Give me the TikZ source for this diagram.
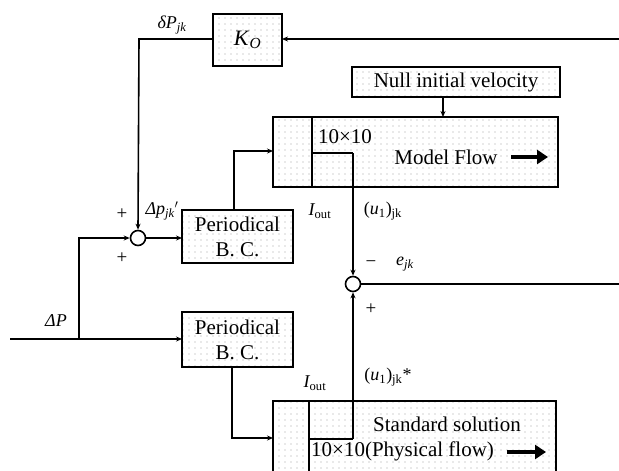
\documentclass[tikz,border=0pt]{standalone}
\usepackage{fontspec}
\setmainfont{Liberation Serif}
\usetikzlibrary{arrows.meta,patterns}
\pgfdeclarepatternformonly{sparsedots}{\pgfqpoint{-1pt}{-1pt}}{\pgfqpoint{6pt}{6pt}}{\pgfqpoint{6pt}{6pt}}{%
  \pgfpathcircle{\pgfqpoint{3pt}{3pt}}{0.65pt}\pgfusepath{fill}}
\begin{document}
\begin{tikzpicture}[x=1pt,y=-1pt,
  blk/.style={draw,line width=1.8pt,pattern=sparsedots,pattern color=gray!75},
  wire/.style={line width=1.6pt},
  arr/.style={line width=1.6pt,-{Stealth[length=6pt,width=5pt]}},
  big/.style={font=\fontsize{21}{25}\selectfont},
  lbl/.style={font=\fontsize{18}{20}\selectfont\itshape},
  sgn/.style={font=\fontsize{19}{20}\selectfont},
  sumj/.style={circle,draw,line width=1.6pt,fill=white,minimum size=15pt,inner sep=0pt},
  fat/.style={line width=4pt,-{Triangle[length=11pt,width=14pt]}}]
\useasboundingbox (0,0) rectangle (619,471);
\clip (0,0) rectangle (619,471);
% blocks
\draw[blk] (213,14) rectangle (282,66);
\node (ko) at (247.5,40) {\fontsize{22}{24}\selectfont\textit{K}\textsubscript{\textit{O}}};
\coordinate (koE) at (282,39); \coordinate (koW) at (213,39);
\draw[blk] (352,67) rectangle (560,97);
\node[big] (null) at (456,82) {Null initial velocity};
\draw[blk] (273,117) rectangle (558,187);
\node[big] (model) at (446,157) {Model Flow};
\node[big] at (345,137) {10×10};
\draw[blk] (182,210) rectangle (293,263);
\node[big,align=center] (pbc1) at (237.5,236.5) {Periodical\\B. C.};
\draw[blk] (182,312) rectangle (293,367);
\node[big,align=center] (pbc2) at (237.5,339.5) {Periodical\\B. C.};
\draw[blk] (273,401) rectangle (556,480);
\node[big] (std) at (447,424) {Standard solution};
\node[big,anchor=west,inner sep=0pt] at (311,451) {10×10(Physical flow)};
% inner partitions
\draw[wire] (312,117) -- (312,187);
\draw[wire] (312,153) -- (353,153) coordinate (mout);
\draw[wire] (309,401) -- (309,480);
\draw[wire] (309,439) -- (353,439) coordinate (sout);
% fat arrows
\draw[fat] (511,157) -- (548,157);
\draw[fat] (507,452) -- (546,452);
% summing junctions
\node[sumj] (s1) at (138,238) {};
\node[sumj] (s2) at (353,284) {};
% coordinates
\coordinate (rin) at (619,39);
\coordinate (c1) at (139,39);
\coordinate (inl) at (10,339);
\coordinate (br) at (79,339);
\coordinate (rout) at (619,284);
% connectors
\draw[arr] (rin) -- (koE);
\draw[arr] (koW) -- (c1) -- (s1.north);
\draw[arr] (inl) -- (182,339);
\draw[arr] (br) |- (s1.west);
\draw[arr] (s1.east) -- (182,238);
\draw[arr] (234,210) |- (273,151);
\draw[arr] (232,367) |- (273,438);
\draw[arr] (443,97) -- (443,117);
\draw[arr] (mout) -- (s2.north);
\draw[arr] (sout) -- (s2.south);
\draw[wire] (s2.east) -- (rout);
% labels
\node[lbl] at (172,25) {δP\textsubscript{jk}};
\node[sgn] at (122,214) {+};
\node[sgn] at (122,258) {+};
\node[lbl] at (162,211) {Δp\textsubscript{jk}$'$};
\node[lbl] at (320,211) {I\textsubscript{\upshape out}};
\node[lbl] at (315,383) {I\textsubscript{\upshape out}};
\node[lbl] at (383,211) {\upshape(\itshape u\textsubscript{\upshape 1}\upshape)\textsubscript{jk}};
\node[lbl] at (388,377) {\upshape(\itshape u\textsubscript{\upshape 1}\upshape)\textsubscript{jk}\upshape*};
\node[sgn] at (371,264) {−};
\node[lbl] at (405,264) {e\textsubscript{jk}};
\node[sgn] at (371,309) {+};
\node[lbl] at (56,321) {ΔP};
\end{tikzpicture}
\end{document}
